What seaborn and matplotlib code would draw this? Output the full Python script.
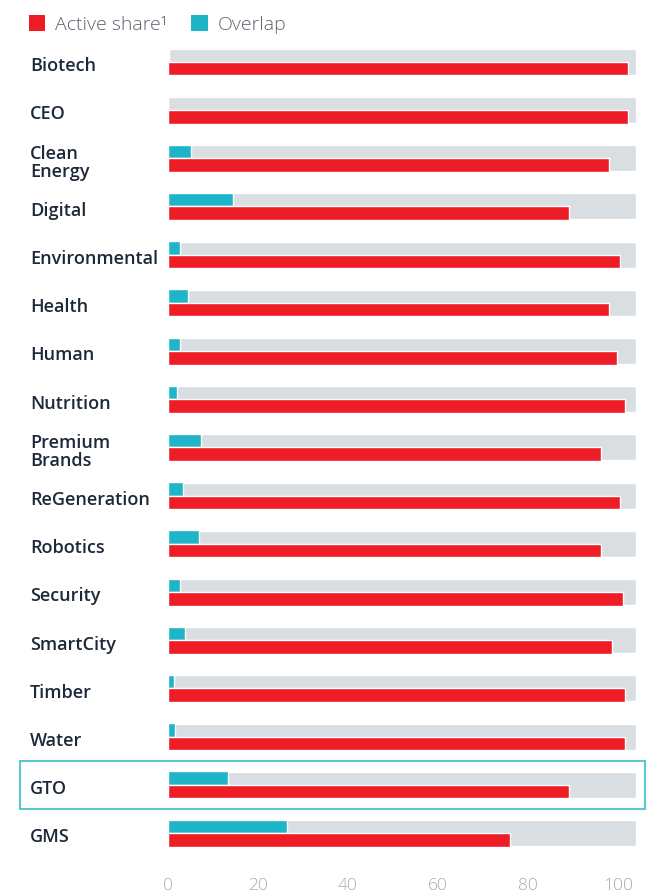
import pandas as pd
import matplotlib.pyplot as plt
import seaborn as sns
from matplotlib.patches import Patch, Rectangle
from matplotlib.transforms import blended_transform_factory

# Data
funds = ['Biotech', 'CEO', 'Clean\nEnergy', 'Digital', 'Environmental', 'Health', 'Human',
         'Nutrition', 'Premium\nBrands', 'ReGeneration', 'Robotics', 'Security', 'SmartCity',
         'Timber', 'Water', 'GTO', 'GMS']
active_share = [102.2, 102.2, 98.0, 89.1, 100.4, 98.0, 99.8, 101.6, 96.2, 100.4,
                96.2, 101.1, 98.7, 101.6, 101.6, 89.1, 76.0]
overlap = [0.3, 0.0, 5.1, 14.4, 2.7, 4.4, 2.7, 2.0, 7.3, 3.3,
           6.9, 2.7, 3.8, 1.3, 1.6, 13.3, 26.4]
scale_max = [104] * len(funds)
x_ticks = [0, 20, 40, 60, 80, 100]

# Colours
red = '#ee1d25'
teal = '#20b4c9'
grey = '#d9dee2'
navy = '#1d2939'

long_df = pd.concat([
    pd.DataFrame({'fund': funds, 'value': overlap, 'series': 'Overlap'}),
    pd.DataFrame({'fund': funds, 'value': active_share, 'series': 'Active share\u00b9'}),
], ignore_index=True)
bg_df = pd.DataFrame({'fund': funds, 'value': scale_max})

sns.set_theme(style="white")
plt.rcParams['font.family'] = ['Open Sans', 'DejaVu Sans']

fig = plt.figure(figsize=(6.58, 8.93), dpi=100)
ax = fig.add_axes([168 / 658, 33 / 893, 468 / 658, 830 / 893])

# grey background track
sns.barplot(data=bg_df, x='value', y='fund', order=funds, color=grey, width=0.54,
            saturation=1, ax=ax, orient='h')
# overlap on top, active share below
sns.barplot(data=long_df, x='value', y='fund', hue='series', order=funds,
            hue_order=['Overlap', 'Active share\u00b9'],
            palette={'Overlap': teal, 'Active share\u00b9': red},
            width=0.56, saturation=1, ax=ax, orient='h', legend=False)

ax.set_xlim(0, 104)
ax.set_ylim(16.56, -0.66)
ax.set_xticks(x_ticks)
ax.set_xlabel('')
ax.set_ylabel('')
sns.despine(ax=ax, left=True, bottom=True)
ax.tick_params(axis='x', length=0, pad=13, labelsize=12.5, labelcolor='#a3abb3')
ax.tick_params(axis='y', length=0, labelleft=False)
for lbl in ax.get_xticklabels():
    lbl.set_fontweight('light')

# fund names, left aligned
trans = blended_transform_factory(ax.transAxes, ax.transData)
for i, name in enumerate(funds):
    ax.text(-138 / 468, i + 0.05, name, transform=trans, ha='left', va='center_baseline',
            fontsize=13, fontweight='semibold', color=navy, linespacing=1.0)

# legend
handles = [Patch(facecolor=red, edgecolor='none'), Patch(facecolor=teal, edgecolor='none')]
fig.legend(handles, ['Active share\u00b9', 'Overlap'], loc='upper left',
           bbox_to_anchor=(11 / 658, 1 + 2 / 893), ncol=2, frameon=False,
           handlelength=0.85, handleheight=0.85, handletextpad=0.5, columnspacing=1.25,
           prop={'size': 14, 'weight': 'light'}, labelcolor='#5a636d')

# highlight box around GTO
fig.add_artist(Rectangle((20 / 658, (893 - 809) / 893), 625 / 658, 48 / 893,
                         transform=fig.transFigure, fill=False,
                         edgecolor='#5cc6d4', linewidth=1.5))

fig.savefig('out.png', dpi=100)
